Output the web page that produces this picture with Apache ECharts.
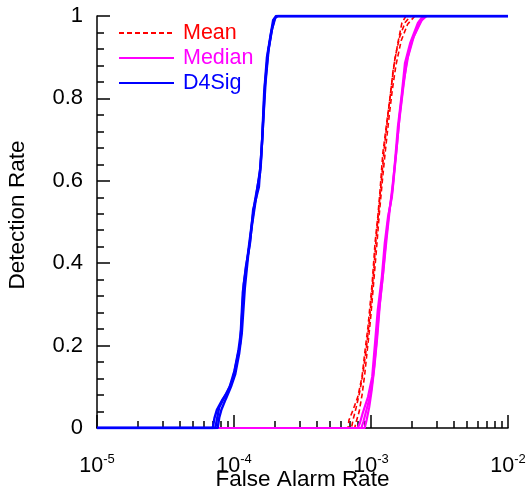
<!DOCTYPE html>
<html>
<head>
<meta charset="utf-8">
<script src="https://cdn.jsdelivr.net/npm/echarts@6/dist/echarts.min.js"></script>
<style>html,body{margin:0;padding:0;background:#fff;}#c{width:529px;height:493px;}</style>
</head>
<body>
<div id="c"></div>
<script>
// ---- data (x = false alarm rate, y = detection rate) ----
const meanRun1 = [[1e-5,0],[6.8e-4,0],[6.9e-4,0.019],[7.4e-4,0.044],[8.0e-4,0.075],[8.6e-4,0.124],[9.0e-4,0.182],[9.5e-4,0.245],[1.02e-3,0.352],[1.07e-3,0.449],[1.12e-3,0.512],[1.16e-3,0.57],[1.22e-3,0.667],[1.31e-3,0.748],[1.38e-3,0.803],[1.45e-3,0.869],[1.57e-3,0.934],[1.68e-3,0.983],[1.80e-3,1],[1e-2,1]];
const meanRun2 = [[1e-5,0],[7.2e-4,0],[7.4e-4,0.02],[7.8e-4,0.05],[8.3e-4,0.09],[8.8e-4,0.14],[9.3e-4,0.2],[9.8e-4,0.27],[1.04e-3,0.37],[1.09e-3,0.46],[1.14e-3,0.53],[1.19e-3,0.6],[1.25e-3,0.68],[1.34e-3,0.77],[1.42e-3,0.84],[1.50e-3,0.9],[1.62e-3,0.95],[1.78e-3,0.985],[1.95e-3,1],[1e-2,1]];
const meanRun3 = [[1e-5,0],[7.6e-4,0],[7.8e-4,0.015],[8.2e-4,0.04],[8.6e-4,0.08],[9.0e-4,0.13],[9.4e-4,0.19],[9.9e-4,0.26],[1.05e-3,0.36],[1.10e-3,0.44],[1.15e-3,0.52],[1.21e-3,0.6],[1.27e-3,0.67],[1.36e-3,0.76],[1.43e-3,0.82],[1.52e-3,0.88],[1.66e-3,0.94],[1.85e-3,0.98],[2.09e-3,1],[1e-2,1]];
const medianRun1 = [[1e-5,0],[8.0e-4,0],[8.3e-4,0.012],[8.7e-4,0.036],[9.5e-4,0.075],[1.02e-3,0.124],[1.07e-3,0.206],[1.12e-3,0.286],[1.20e-3,0.367],[1.26e-3,0.449],[1.33e-3,0.512],[1.42e-3,0.56],[1.50e-3,0.65],[1.57e-3,0.73],[1.68e-3,0.813],[1.77e-3,0.886],[1.93e-3,0.934],[2.20e-3,0.983],[2.40e-3,1],[1e-2,1]];
const medianRun2 = [[1e-5,0],[8.5e-4,0],[8.8e-4,0.015],[9.2e-4,0.04],[9.9e-4,0.08],[1.04e-3,0.13],[1.09e-3,0.2],[1.14e-3,0.28],[1.22e-3,0.37],[1.28e-3,0.45],[1.35e-3,0.52],[1.44e-3,0.58],[1.52e-3,0.66],[1.60e-3,0.74],[1.71e-3,0.82],[1.82e-3,0.89],[1.99e-3,0.94],[2.28e-3,0.985],[2.48e-3,1],[1e-2,1]];
const medianRun3 = [[1e-5,0],[9.0e-4,0],[9.3e-4,0.02],[9.7e-4,0.05],[1.01e-3,0.09],[1.06e-3,0.15],[1.11e-3,0.22],[1.16e-3,0.3],[1.23e-3,0.38],[1.30e-3,0.46],[1.37e-3,0.53],[1.45e-3,0.6],[1.54e-3,0.68],[1.62e-3,0.76],[1.73e-3,0.84],[1.86e-3,0.9],[2.05e-3,0.95],[2.35e-3,0.99],[2.55e-3,1],[1e-2,1]];
const d4sigRun1 = [[1e-5,0],[7.0e-5,0],[7.2e-5,0.024],[7.5e-5,0.044],[8.2e-5,0.068],[8.9e-5,0.085],[9.8e-5,0.117],[1.05e-4,0.165],[1.11e-4,0.206],[1.16e-4,0.33],[1.22e-4,0.39],[1.31e-4,0.45],[1.38e-4,0.53],[1.52e-4,0.585],[1.60e-4,0.69],[1.66e-4,0.813],[1.74e-4,0.9],[1.83e-4,0.944],[1.93e-4,0.99],[2.05e-4,1],[1e-2,1]];
const d4sigRun2 = [[1e-5,0],[7.3e-5,0],[7.5e-5,0.02],[7.8e-5,0.05],[8.5e-5,0.075],[9.3e-5,0.1],[1.01e-4,0.14],[1.08e-4,0.19],[1.13e-4,0.24],[1.18e-4,0.35],[1.25e-4,0.41],[1.33e-4,0.48],[1.42e-4,0.55],[1.55e-4,0.62],[1.62e-4,0.72],[1.68e-4,0.83],[1.77e-4,0.91],[1.87e-4,0.96],[1.98e-4,0.995],[2.10e-4,1],[1e-2,1]];
const d4sigRun3 = [[1e-5,0],[7.6e-5,0],[7.8e-5,0.025],[8.1e-5,0.045],[8.7e-5,0.07],[9.5e-5,0.1],[1.02e-4,0.13],[1.09e-4,0.18],[1.14e-4,0.23],[1.2e-4,0.34],[1.27e-4,0.42],[1.35e-4,0.49],[1.45e-4,0.56],[1.57e-4,0.64],[1.63e-4,0.74],[1.70e-4,0.84],[1.79e-4,0.92],[1.9e-4,0.97],[2.02e-4,1],[1e-2,1]];
const seriesNames = ['Mean', 'Median', 'D4Sig'];
const seriesColors = ['#ff0000', '#ff00ff', '#0000ff'];
const xTicks = [1e-5, 1e-4, 1e-3, 1e-2];
const yTicks = [0, 0.2, 0.4, 0.6, 0.8, 1];

const FONT = '"Liberation Sans", Arial, Helvetica, sans-serif';
const chart = echarts.init(document.getElementById('c'), null, {renderer: 'canvas'});

function runSeries(name, color, data, dashed, width) {
  return {
    name: name, type: 'line', data: data, symbol: 'none', showSymbol: false, smooth: false,
    lineStyle: {color: color, width: width, type: dashed ? [5, 3] : 'solid'},
    itemStyle: {color: color},
    emphasis: {disabled: true}, animation: false
  };
}

const series = [
  runSeries(seriesNames[0], seriesColors[0], meanRun1, true, 1.6),
  runSeries(seriesNames[0], seriesColors[0], meanRun2, true, 1.6),
  runSeries(seriesNames[0], seriesColors[0], meanRun3, true, 1.6),
  runSeries(seriesNames[1], seriesColors[1], medianRun1, false, 2.2),
  runSeries(seriesNames[1], seriesColors[1], medianRun2, false, 2.2),
  runSeries(seriesNames[1], seriesColors[1], medianRun3, false, 2.2),
  runSeries(seriesNames[2], seriesColors[2], d4sigRun1, false, 2.4),
  runSeries(seriesNames[2], seriesColors[2], d4sigRun2, false, 2.4),
  runSeries(seriesNames[2], seriesColors[2], d4sigRun3, false, 2.4)
];

chart.setOption({
  animation: false,
  backgroundColor: '#fff',
  grid: {left: 97, top: 16, right: 21, bottom: 65, containLabel: false, outerBoundsMode: 'none'},
  legend: {
    show: true, orient: 'vertical', left: 118, top: 22, padding: 0,
    itemWidth: 55, itemHeight: 14, itemGap: 3,
    itemStyle: {opacity: 0},
    data: seriesNames.map((n, i) => ({name: n, textStyle: {color: seriesColors[i]}})),
    textStyle: {fontFamily: FONT, fontSize: 21.5, lineHeight: 22, padding: [0, 0, 0, 4]},
    selectedMode: false
  },
  xAxis: {
    type: 'log', logBase: 10, min: xTicks[0], max: xTicks[xTicks.length - 1],
    name: 'False Alarm Rate', nameLocation: 'middle', nameGap: 40, nameMoveOverlap: false,
    nameTextStyle: {fontFamily: FONT, fontSize: 22.5, color: '#000'},
    axisLine: {show: true, lineStyle: {color: '#000', width: 1.5}},
    axisTick: {show: true, inside: true, length: 13, lineStyle: {color: '#000', width: 1.5}},
    minorTick: {show: true, splitNumber: 9, length: 7, lineStyle: {color: '#000', width: 1.5}},
    splitLine: {show: false},
    axisLabel: {
      margin: 25, color: '#000', fontFamily: FONT,
      formatter: function (v) { return '{b|10}{s|' + Math.round(Math.log10(v)) + '}'; },
      rich: {
        b: {fontSize: 21.5, fontFamily: FONT, color: '#000', verticalAlign: 'bottom', lineHeight: 24},
        s: {fontSize: 13, fontFamily: FONT, color: '#000', verticalAlign: 'top', lineHeight: 24}
      }
    }
  },
  yAxis: {
    type: 'value', min: yTicks[0], max: yTicks[yTicks.length - 1], interval: 0.2,
    name: 'Detection Rate', nameLocation: 'middle', nameGap: 68, nameRotate: 90, nameMoveOverlap: false,
    nameTextStyle: {fontFamily: FONT, fontSize: 22.5, color: '#000', padding: [0, 0, 0, 14]},
    axisLine: {show: true, lineStyle: {color: '#000', width: 1.5}},
    axisTick: {show: true, inside: true, length: 13, lineStyle: {color: '#000', width: 1.5}},
    minorTick: {show: true, splitNumber: 5, length: 7, lineStyle: {color: '#000', width: 1.5}},
    splitLine: {show: false},
    axisLabel: {margin: 14, color: '#000', fontFamily: FONT, fontSize: 22,
      formatter: function (v) { return String(Math.round(v * 10) / 10); }}
  },
  series: series
});
</script>
</body>
</html>
